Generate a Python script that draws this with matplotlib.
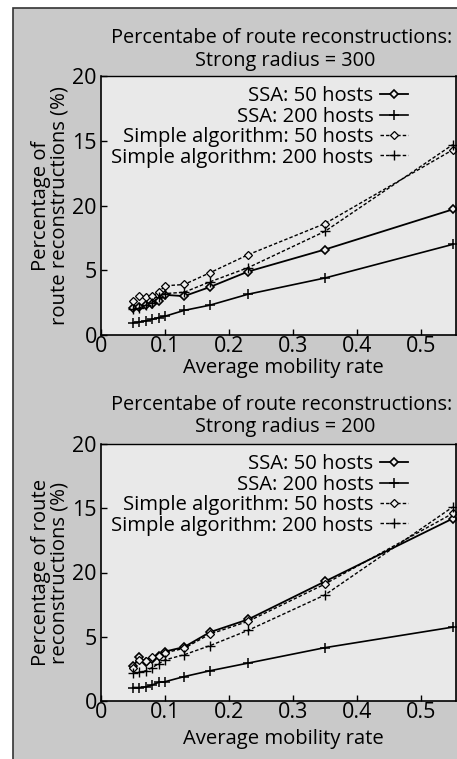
import matplotlib
matplotlib.use("Agg")
import matplotlib.pyplot as plt
from matplotlib.patches import Rectangle

plt.rcParams['font.family'] = ['Open Sans', 'DejaVu Sans']

# ---- data ----
mobility = [0.05, 0.06, 0.07, 0.08, 0.09, 0.10, 0.13, 0.17, 0.23, 0.35, 0.55]

ssa50_r300 = [2.1, 2.2, 2.3, 2.4, 2.6, 3.1, 3.0, 3.7, 4.9, 6.6, 9.7]
ssa200_r300 = [0.95, 1.0, 1.1, 1.2, 1.35, 1.45, 1.9, 2.3, 3.15, 4.4, 7.0]
simple50_r300 = [2.6, 3.0, 2.9, 3.0, 3.3, 3.8, 3.9, 4.8, 6.2, 8.6, 14.3]
simple200_r300 = [2.0, 2.1, 2.3, 2.5, 2.9, 3.2, 3.3, 4.1, 5.2, 8.0, 14.7]

ssa50_r200 = [2.7, 3.4, 3.05, 3.3, 3.5, 3.85, 4.2, 5.35, 6.35, 9.3, 14.2]
ssa200_r200 = [1.05, 1.05, 1.1, 1.25, 1.45, 1.5, 1.9, 2.35, 2.95, 4.15, 5.75]
simple50_r200 = [2.6, 3.2, 3.1, 3.4, 3.5, 3.75, 4.1, 5.2, 6.2, 9.1, 14.6]
simple200_r200 = [2.15, 2.25, 2.35, 2.6, 2.9, 3.2, 3.6, 4.3, 5.5, 8.25, 15.1]

series_labels = ["SSA: 50 hosts", "SSA: 200 hosts",
                 "Simple algorithm: 50 hosts", "Simple algorithm: 200 hosts"]
ytick_vals = [0, 5, 10, 15, 20]
ytick_labels = ["0", "5", "20", "15", "20"]
xtick_vals = [0, 0.1, 0.2, 0.3, 0.4, 0.5]
xtick_labels = ["0", "0.1", "0.2", "0.3", "0.4", "0.5"]

titles = ["Percentabe of route reconstructions:\nStrong radius = 300",
          "Percentabe of route reconstructions:\nStrong radius = 200"]
ylabels = ["Percentage of\nroute reconstructions (%)",
           "Percentage of route\nreconstructions (%)"]
xlabel = "Average mobility rate"

W, H = 457, 759
fig = plt.figure(figsize=(W / 100, H / 100), dpi=100)
fig.patch.set_facecolor('white')

# scanned-page gray background with border
bg = Rectangle((13 / W, -0.01), 1.0, 1 - 8 / H + 0.01,
               transform=fig.transFigure, facecolor='#c9c9c9',
               edgecolor='#333333', linewidth=1.2, zorder=-10)
fig.add_artist(bg)

axes_px = [(76, 335), (444, 701)]
data_sets = [
    (ssa50_r300, ssa200_r300, simple50_r300, simple200_r300),
    (ssa50_r200, ssa200_r200, simple50_r200, simple200_r200),
]
title_y = [(38, 61), (405, 427)]
xlabel_y = [368, 739]

styles = [
    dict(linestyle='-', marker='D', markersize=4.5, markerfacecolor='#eeeeee',
         markeredgewidth=1.2, linewidth=1.3),
    dict(linestyle='-', marker='+', markersize=7, markeredgewidth=1.1, linewidth=1.2),
    dict(linestyle=(0, (2.5, 1.5)), marker='D', markersize=4.5, markerfacecolor='#eeeeee',
         markeredgewidth=0.9, linewidth=1.0),
    dict(linestyle=(0, (2.5, 1.5)), marker='+', markersize=7, markeredgewidth=1.0, linewidth=1.0),
]

FS = 14.6
left = 101 / W
right = 456 / W
for i, ((top, bot), data) in enumerate(zip(axes_px, data_sets)):
    ax = fig.add_axes([left, 1 - bot / H, right - left, (bot - top) / H])
    ax.set_facecolor('#e9e9e9')
    for lab, ys, st in zip(series_labels, data, styles):
        ax.plot(mobility, ys, color='black', label=lab, **st)
    ax.set_xlim(0, 0.555)
    ax.set_ylim(0, 20)
    ax.set_xticks(xtick_vals)
    ax.set_xticklabels(xtick_labels)
    ax.set_yticks(ytick_vals)
    ax.set_yticklabels(ytick_labels)
    ax.tick_params(direction='in', length=4, width=1, labelsize=15.5, pad=3,
                   top=False, right=False)
    ax.tick_params(axis='x', pad=1)
    for sp in ax.spines.values():
        sp.set_linewidth(1.2)
    ax.spines['top'].set_linewidth(1.0)
    ax.set_ylabel(ylabels[i], fontsize=FS, labelpad=2, linespacing=0.9)
    fig.text(283 / W, 1 - xlabel_y[i] / H, xlabel, ha='center', va='center', fontsize=FS)
    leg = ax.legend(loc='upper right', bbox_to_anchor=(0.905, 1.015), frameon=False,
                    markerfirst=False, fontsize=FS, handlelength=1.4,
                    handletextpad=0.3, labelspacing=0.02, borderaxespad=0.3)
    for t in leg.get_texts():
        t.set_ha('right')
    leg._legend_box.align = 'right'
    l1, l2 = titles[i].split("\n")
    fig.text(282 / W, 1 - title_y[i][0] / H, l1, ha='center', va='center', fontsize=14.3)
    fig.text(285 / W, 1 - title_y[i][1] / H, l2, ha='center', va='center', fontsize=14.3)

fig.savefig("out.png", dpi=100, facecolor=fig.get_facecolor())
